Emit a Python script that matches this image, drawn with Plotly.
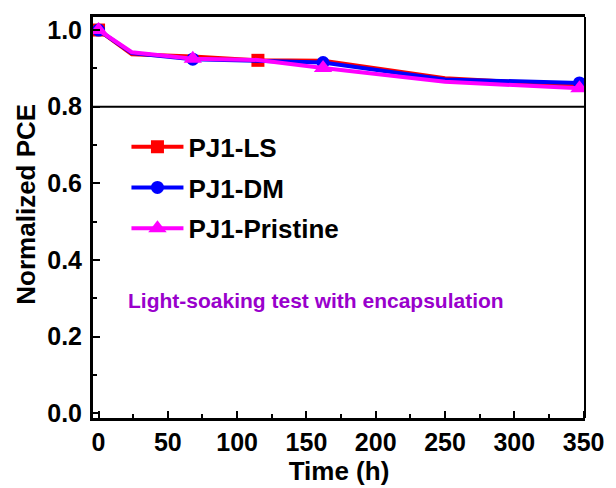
import plotly.graph_objects as go

time_h = [0, 24, 68, 115, 162, 250, 347]
pce_ls = [1.000, 0.937, 0.931, 0.921, 0.920, 0.874, 0.855]
pce_dm = [1.000, 0.940, 0.924, 0.919, 0.915, 0.871, 0.862]
pce_pristine = [1.000, 0.942, 0.925, 0.922, 0.901, 0.865, 0.848]

show_ls = [1, 0, 0, 1, 0, 0, 0]
show_dm = [1, 0, 1, 0, 1, 0, 1]
show_pr = [1, 0, 1, 0, 1, 0, 1]

series = [
    ("PJ1-LS", pce_ls, show_ls, "#FF0000", "square", 13),
    ("PJ1-DM", pce_dm, show_dm, "#0000FF", "circle", 13),
    ("PJ1-Pristine", pce_pristine, show_pr, "#FF00FF", "triangle-up", 16),
]

fig = go.Figure()
for i, (name, ys, show, color, sym, size) in enumerate(series):
    colors = [color if s else "rgba(0,0,0,0)" for s in show]
    fig.add_trace(go.Scatter(
        x=time_h, y=ys, name=name, mode="lines+markers", legendgroup="g%d" % i,
        line=dict(color=color, width=4),
        marker=dict(symbol=sym, size=size, color=colors, line=dict(width=0)),
    ))

font_family = "Liberation Sans, Arial, sans-serif"

fig.add_shape(type="line", xref="paper", yref="y", x0=0, x1=1, y0=0.8, y1=0.8,
              line=dict(color="black", width=2), layer="below")
fig.add_shape(type="line", xref="paper", yref="paper", x0=1, x1=1, y0=0, y1=1,
              line=dict(color="black", width=2))

fig.add_annotation(text="<b>Light-soaking test with encapsulation</b>",
                   xref="x", yref="y", x=157, y=0.294, showarrow=False,
                   font=dict(family=font_family, size=21, color="#9900CC"))
fig.add_annotation(text="<b>Normalized PCE</b>", xref="paper", yref="paper",
                   x=-0.137, y=0.5335, textangle=-90, showarrow=False,
                   xanchor="center", yanchor="middle",
                   font=dict(family=font_family, size=26, color="black"))

fig.update_layout(
    width=616, height=488,
    margin=dict(l=93, r=27, t=17, b=68),
    paper_bgcolor="white", plot_bgcolor="white",
    font=dict(family=font_family, size=25, color="black"),
    showlegend=True,
    legend=dict(x=0.068, y=0.735, xanchor="left", yanchor="top",
                bgcolor="rgba(0,0,0,0)", itemwidth=52,
                font=dict(family=font_family, size=26, color="black", weight="bold"),
                tracegroupgap=4, traceorder="grouped"),
    xaxis=dict(range=[-4, 351], tickvals=[0, 50, 100, 150, 200, 250, 300, 350],
               ticks="inside", ticklen=7, tickwidth=2, tickcolor="black",
               minor=dict(dtick=25, tick0=0, ticks="inside", ticklen=4, tickwidth=2, tickcolor="black"),
               showline=True, linewidth=3, linecolor="black", mirror=True,
               showgrid=False, zeroline=False,
               tickfont=dict(family=font_family, size=25, weight="bold"),
               title=dict(text="<b>Time (h)</b>", standoff=2,
                          font=dict(family=font_family, size=26))),
    yaxis=dict(range=[-0.012, 1.034], tickvals=[0, 0.2, 0.4, 0.6, 0.8, 1.0],
               ticktext=["0.0", "0.2", "0.4", "0.6", "0.8", "1.0"],
               ticks="inside", ticklen=7, tickwidth=2, tickcolor="black",
               minor=dict(dtick=0.1, tick0=0, ticks="inside", ticklen=4, tickwidth=2, tickcolor="black"),
               showline=True, linewidth=3, linecolor="black", mirror=False,
               showgrid=False, zeroline=False, ticklabelstandoff=3,
               tickfont=dict(family=font_family, size=25, weight="bold")),
)

fig.write_html("out.html", config={"displayModeBar": False},
               post_script="document.body.style.margin='0';")
